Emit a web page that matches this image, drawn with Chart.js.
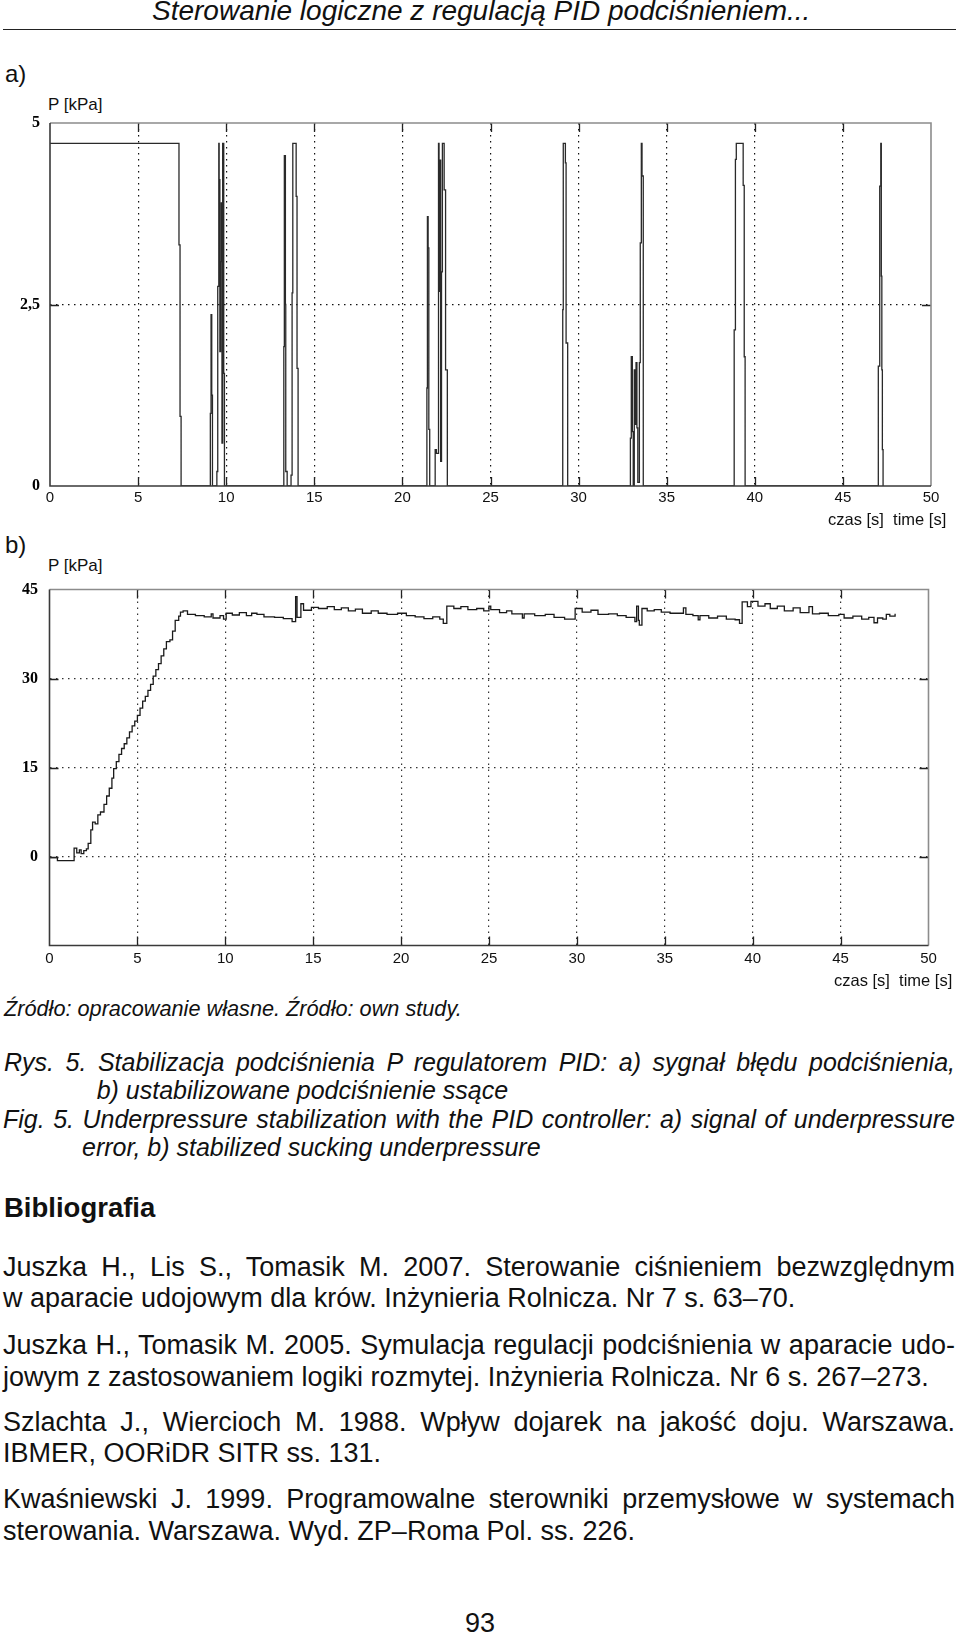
<!DOCTYPE html>
<html>
<head>
<meta charset="utf-8">
<script src="https://cdn.jsdelivr.net/npm/chart.js@4.4.1/dist/chart.umd.min.js"></script>
<style>
html,body{margin:0;padding:0;background:#fff;}
body{width:960px;height:1636px;position:relative;overflow:hidden;font-family:"Liberation Sans",Arial,sans-serif;color:#111;}
.t{position:absolute;white-space:nowrap;line-height:1;}
.i{font-style:italic;}
.j{white-space:normal;text-align:justify;text-align-last:justify;}
.cw{position:absolute;left:0;width:960px;height:400px;}
</style>
</head>
<body>
<div class="t i" style="left:152px;top:-2.7px;font-size:28px;">Sterowanie logiczne z regulacją PID podciśnieniem...</div>
<div style="position:absolute;left:3px;top:28.5px;width:953px;height:1.6px;background:#222;"></div>

<div class="t" style="left:5px;top:61.9px;font-size:24px;">a)</div>
<div class="t" style="left:48px;top:95.6px;font-size:17px;">P [kPa]</div>
<div class="cw" style="top:115px;"><canvas id="chartA"></canvas></div>
<div class="t" style="left:828px;top:511px;font-size:16.5px;">czas [s]&nbsp; time [s]</div>

<div class="t" style="left:5px;top:533.4px;font-size:24px;">b)</div>
<div class="t" style="left:48px;top:557.3px;font-size:17px;">P [kPa]</div>
<div class="cw" style="top:582px;"><canvas id="chartB"></canvas></div>
<div class="t" style="left:834px;top:971.8px;font-size:16.5px;">czas [s]&nbsp; time [s]</div>

<div class="t i" style="left:4px;top:998.3px;font-size:21.7px;">Źródło: opracowanie własne. Źródło: own study.</div>
<div class="t i j" style="left:4px;top:1049.8px;width:951px;font-size:25px;">Rys. 5. Stabilizacja podciśnienia P regulatorem PID: a) sygnał błędu podciśnienia,</div>
<div class="t i" style="left:96.7px;top:1077.8px;font-size:25px;">b) ustabilizowane podciśnienie ssące</div>
<div class="t i j" style="left:3px;top:1106.5px;width:952px;font-size:25px;">Fig. 5. Underpressure stabilization with the PID controller: a) signal of underpressure</div>
<div class="t i" style="left:82px;top:1134.5px;font-size:25px;">error, b) stabilized sucking underpressure</div>

<div class="t" style="left:4px;top:1194.2px;font-size:27.5px;font-weight:bold;">Bibliografia</div>
<div class="t j" style="left:3px;top:1253.8px;width:952px;font-size:27px;">Juszka H., Lis S., Tomasik M. 2007. Sterowanie ciśnieniem bezwzględnym</div>
<div class="t" style="left:3px;top:1285.4px;font-size:27px;">w aparacie udojowym dla krów. Inżynieria Rolnicza. Nr 7 s. 63–70.</div>
<div class="t j" style="left:3px;top:1332.1px;width:952px;font-size:27px;">Juszka H., Tomasik M. 2005. Symulacja regulacji podciśnienia w aparacie udo-</div>
<div class="t" style="left:3px;top:1363.8px;font-size:27px;">jowym z zastosowaniem logiki rozmytej. Inżynieria Rolnicza. Nr 6 s. 267–273.</div>
<div class="t j" style="left:3px;top:1408.8px;width:952px;font-size:27px;">Szlachta J., Wiercioch M. 1988. Wpływ dojarek na jakość doju. Warszawa.</div>
<div class="t" style="left:3px;top:1440.4px;font-size:27px;">IBMER, OORiDR SITR ss. 131.</div>
<div class="t j" style="left:3px;top:1486.4px;width:952px;font-size:27px;">Kwaśniewski J. 1999. Programowalne sterowniki przemysłowe w systemach</div>
<div class="t" style="left:3px;top:1517.6px;font-size:27px;">sterowania. Warszawa. Wyd. ZP–Roma Pol. ss. 226.</div>

<div class="t" style="left:465px;top:1610.1px;font-size:27px;">93</div>

<script>
// ---------- DATA ----------
const xTicks = [0, 5, 10, 15, 20, 25, 30, 35, 40, 45, 50];
const aYTicks = [0, 2.5, 5];
const aYTickLabels = ['0', '2,5', '5'];
const bYTicks = [-15, 0, 15, 30, 45];
const bYTickLabels = ['', '0', '15', '30', '45'];

// a) error signal [time s, P kPa] (value holds until next change)
const aSignal = [
  [0, 4.72], [7.32, 3.32], [7.38, 0.96], [7.44, 0],
  [9.1, 1.0], [9.14, 2.36], [9.18, 1.25], [9.22, 0], [9.47, 0.2], [9.52, 2.75], [9.58, 4.72], [9.6, 4.22],
  [9.64, 1.85], [9.68, 3.09], [9.72, 3.9], [9.76, 0.59], [9.8, 4.72], [9.86, 1.55], [9.9, 0],
  [13.27, 1.92], [13.3, 4.55], [13.36, 2.5], [13.38, 0.2], [13.46, 0], [13.68, 0.15], [13.74, 2.66],
  [13.78, 4.72], [13.97, 3.99], [14.02, 1.62], [14.08, 0],
  [21.39, 1.35], [21.42, 3.71], [21.46, 3.28], [21.5, 0.78], [21.55, 0], [21.86, 0.5], [21.93, 0.45],
  [22.05, 4.72], [22.08, 2.68], [22.13, 4.49], [22.17, 0.34], [22.22, 2.95], [22.27, 4.72], [22.37, 4.08],
  [22.45, 1.6], [22.55, 0],
  [29.1, 2.43], [29.13, 4.72], [29.25, 4.45], [29.29, 1.97], [29.38, 0],
  [32.94, 0.66], [32.99, 1.78], [33.05, 0.75], [33.1, 0], [33.16, 1.6], [33.21, 0.85], [33.26, 1.7],
  [33.31, 0.8], [33.36, 0.05], [33.45, 1.7], [33.5, 3.35], [33.56, 4.72], [33.6, 4.27], [33.67, 0],
  [38.83, 2.15], [38.9, 4.5], [38.95, 4.72], [39.34, 4.14], [39.4, 1.78], [39.45, 0],
  [47.01, 1.65], [47.09, 4.13], [47.15, 4.72], [47.18, 2.89], [47.21, 1.6], [47.24, 0.5], [47.28, 0]
];

// b) stabilized sucking underpressure [time s, P kPa]
const bPressure = [
  [0, -0.2], [0.45, -0.7], [1.4, 1.4], [1.55, 0.6], [1.7, 1.1], [1.8, 0.5], [1.95, 1.0], [2.1, 1.3],
  [2.2, 2.2], [2.35, 4.5], [2.45, 5.8], [2.6, 5.5], [2.75, 7.0], [2.9, 7.5], [3.1, 8.8], [3.25, 10.2],
  [3.4, 11.5], [3.55, 13.2], [3.65, 14.8], [3.8, 16.0], [3.95, 17.2], [4.1, 18.2], [4.25, 19.0],
  [4.4, 20.0], [4.55, 21.0], [4.7, 22.0], [4.85, 22.8], [5.0, 23.8], [5.15, 25.0], [5.3, 26.2],
  [5.45, 27.0], [5.6, 28.0], [5.75, 29.0], [5.9, 30.4], [6.05, 31.5], [6.2, 32.5], [6.35, 33.8],
  [6.5, 35.0], [6.65, 36.2], [6.85, 36.5], [7.0, 38.0], [7.15, 39.8], [7.35, 40.5], [7.45, 41.2],
  [7.6, 41.4], [7.85, 40.8], [8.3, 40.6], [8.8, 40.4], [9.2, 40.9], [9.3, 40.2], [9.7, 40.6],
  [9.9, 40.0], [10.05, 41.0], [10.4, 40.7], [10.8, 41.1], [11.2, 40.6], [11.5, 41.0], [11.8, 40.8],
  [12.2, 40.4], [12.8, 40.3], [13.3, 40.1], [13.8, 39.6], [14.0, 43.8], [14.08, 40.3], [14.3, 42.6],
  [14.45, 41.5], [14.9, 42.0], [15.3, 41.8], [15.8, 42.1], [16.2, 41.6], [16.6, 41.9], [17.0, 41.4],
  [17.4, 41.7], [17.8, 41.0], [18.3, 41.4], [18.7, 41.0], [19.2, 40.8], [19.8, 41.0], [20.3, 40.6],
  [20.8, 40.4], [21.3, 40.1], [21.8, 40.4], [22.2, 40.0], [22.4, 39.3], [22.6, 42.2], [23.0, 41.8],
  [23.4, 42.1], [23.8, 41.6], [24.3, 41.8], [24.7, 41.4], [25.0, 42.2], [25.1, 41.6], [25.6, 41.1],
  [26.0, 41.4], [26.3, 40.9], [26.9, 40.2], [27.0, 40.9], [27.6, 40.6], [28.2, 40.8], [28.7, 40.3],
  [29.3, 40.0], [29.9, 41.8], [30.3, 41.2], [30.8, 41.5], [31.2, 40.8], [31.8, 40.9], [32.3, 40.6],
  [32.8, 40.3], [33.3, 39.6], [33.4, 42.2], [33.5, 39.8], [33.55, 39.0], [33.7, 41.8], [34.0, 41.4],
  [34.4, 41.6], [34.8, 41.2], [35.3, 41.0], [36.06, 41.9], [36.2, 40.8], [36.6, 40.6], [36.9, 39.9],
  [37.0, 40.6], [37.5, 40.2], [38.0, 40.5], [38.5, 40.0], [39.0, 39.9], [39.25, 39.3], [39.4, 42.9],
  [39.7, 42.1], [39.9, 43.0], [40.3, 42.2], [40.7, 42.6], [41.0, 41.8], [41.4, 42.2], [41.8, 41.4],
  [42.3, 41.9], [42.7, 41.1], [43.2, 42.1], [43.4, 40.9], [43.8, 41.0], [44.3, 40.6], [44.9, 40.8],
  [45.2, 40.2], [45.7, 40.5], [46.2, 40.0], [46.6, 40.3], [46.9, 39.4], [47.1, 40.2], [47.4, 40.0],
  [47.6, 40.8], [47.8, 40.5], [48.1, 40.9]
];

// ---------- RENDERING ----------
const framePlugin = {
  id: 'frame',
  afterDraw(chart, args, o) {
    const {ctx, chartArea: a, scales} = chart;
    const x = scales.x, y = scales.y;
    ctx.save();
    ctx.lineWidth = 1.3;
    ctx.strokeStyle = '#222';
    ctx.beginPath();
    x.ticks.forEach((t, i) => {
      if (i === 0 || i === x.ticks.length - 1) return;
      const px = Math.round(x.getPixelForValue(t.value)) + 0.5;
      ctx.moveTo(px, a.bottom); ctx.lineTo(px, a.bottom - o.len);
      ctx.moveTo(px, a.top); ctx.lineTo(px, a.top + o.len);
    });
    y.ticks.forEach((t, i) => {
      if (i === 0 || i === y.ticks.length - 1) return;
      const py = Math.round(y.getPixelForValue(t.value)) + 0.5;
      ctx.moveTo(a.left, py); ctx.lineTo(a.left + o.len, py);
      ctx.moveTo(a.right, py); ctx.lineTo(a.right - o.len, py);
    });
    ctx.stroke();
    ctx.lineWidth = 1.6;
    ctx.strokeStyle = '#8c8c8c';
    ctx.beginPath();
    ctx.moveTo(a.left, a.top); ctx.lineTo(a.right, a.top); ctx.lineTo(a.right, a.bottom);
    ctx.stroke();
    ctx.strokeStyle = '#3a3a3a';
    ctx.beginPath();
    ctx.moveTo(a.left, a.top); ctx.lineTo(a.left, a.bottom); ctx.lineTo(a.right, a.bottom);
    ctx.stroke();
    ctx.restore();
  }
};

function edgeless(color) {
  return (c) => (c.index === 0 || c.index === c.scale.ticks.length - 1) ? 'rgba(0,0,0,0)' : color;
}

function makeChart(id, series, yMin, yMax, yTicks, yLabels, geo) {
  return new Chart(document.getElementById(id), {
    type: 'line',
    data: {
      datasets: [{
        data: series.map(([t, v]) => ({x: t, y: v})),
        stepped: 'before',
        borderColor: geo.lineColor,
        borderWidth: geo.lineWidth,
        pointRadius: 0,
        fill: false,
        tension: 0
      }]
    },
    options: {
      responsive: true,
      maintainAspectRatio: false,
      animation: false,
      events: [],
      layout: {padding: {top: geo.top, right: geo.right, left: 0, bottom: 0}},
      plugins: {legend: {display: false}, tooltip: {enabled: false}, frame: {len: 9}},
      scales: {
        x: {
          type: 'linear', min: 0, max: 50,
          afterBuildTicks: (s) => { s.ticks = xTicks.map(v => ({value: v})); },
          afterFit: (s) => { s.height = geo.xh; s.paddingLeft = 0; s.paddingRight = 0; },
          ticks: {
            autoSkip: false, maxRotation: 0, padding: geo.xpad,
            color: '#111', font: {family: '"Liberation Sans", Arial, sans-serif', size: 15},
            callback: (v, i) => String(xTicks[i])
          },
          grid: {drawTicks: false, color: edgeless(geo.gridColor), lineWidth: 1.2},
          border: {display: false, dash: geo.dash}
        },
        y: {
          type: 'linear', min: yMin, max: yMax,
          afterBuildTicks: (s) => { s.ticks = yTicks.map(v => ({value: v})); },
          afterFit: (s) => { s.width = geo.yw; s.paddingTop = 0; s.paddingBottom = 0; },
          ticks: {
            autoSkip: false, padding: geo.ypad,
            color: '#000', font: {family: '"Liberation Serif", "Times New Roman", serif', size: geo.yfs, weight: 'bold'},
            callback: (v, i) => yLabels[i]
          },
          grid: {drawTicks: false, color: edgeless(geo.gridColor), lineWidth: 1.2},
          border: {display: false, dash: geo.dash}
        }
      }
    },
    plugins: [framePlugin]
  });
}

makeChart('chartA', aSignal, 0, 5, aYTicks, aYTickLabels,
  {top: 8, right: 29, xh: 29, yw: 50, xpad: 3, ypad: 10, yfs: 16, dash: [1.5, 4.5],
   gridColor: '#111', lineColor: '#2a2a2a', lineWidth: 1.3});
makeChart('chartB', bPressure, -15, 45, bYTicks, bYTickLabels,
  {top: 7.5, right: 31.5, xh: 36.5, yw: 49.5, xpad: 4.5, ypad: 11.5, yfs: 16, dash: [1.5, 4.5],
   gridColor: '#333', lineColor: '#1a1a1a', lineWidth: 1.3});
</script>
</body>
</html>
